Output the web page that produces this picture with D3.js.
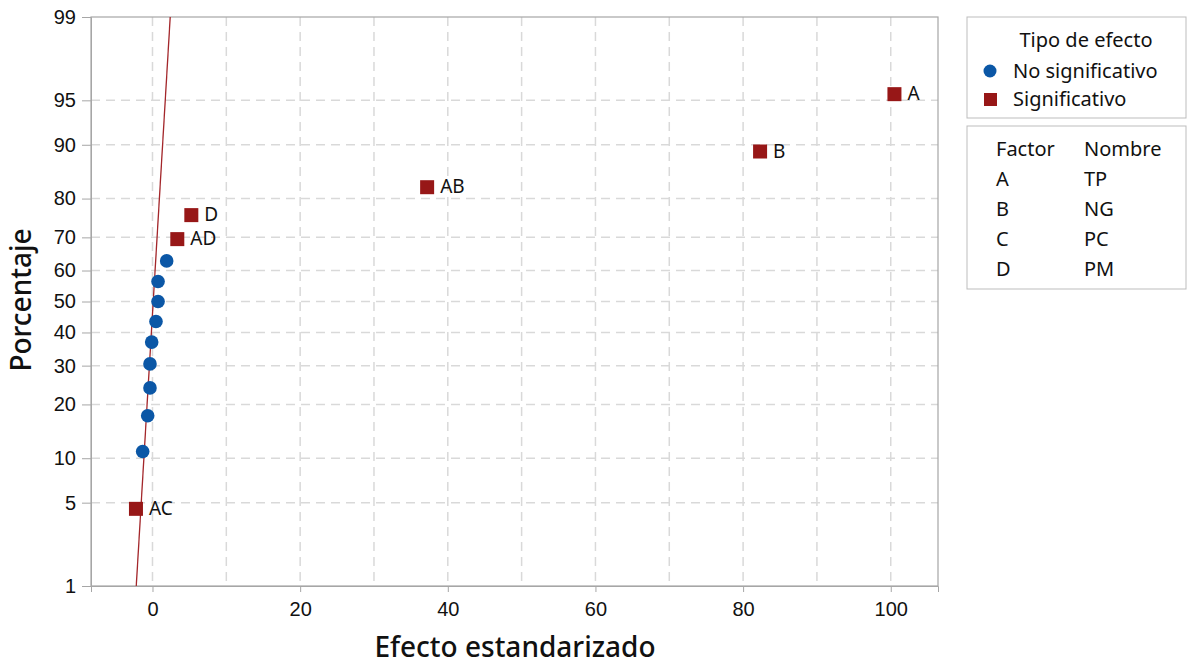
<!DOCTYPE html>
<html>
<head>
<meta charset="utf-8">
<script src="https://cdn.jsdelivr.net/npm/d3@7"></script>
<style>
  body { margin: 0; background: #fff; }
  svg { font-family: "Noto Sans", "Open Sans", sans-serif; }
</style>
</head>
<body>
<div id="chart"></div>
<script>
// DATA
var EFFECTS = [-2.24, -1.33, -0.65, -0.34, -0.34, -0.11, 0.47, 0.75, 0.75, 1.92, 3.36, 5.26, 37.2, 82.3, 100.5];
var PERCENT = [4.5, 11.0, 17.5, 24.0, 30.5, 37.0, 43.5, 50.0, 56.5, 63.0, 69.5, 76.0, 82.5, 89.0, 95.5];
var LABELS  = ["AC", "", "", "", "", "", "", "", "", "", "AD", "D", "AB", "B", "A"];
var SIGNIF  = [1, 0, 0, 0, 0, 0, 0, 0, 0, 0, 1, 1, 1, 1, 1];
var FIT_X   = [-2.2, 2.4];   // fitted normal line, effect at 1% and 99%
var FIT_P   = [1, 99];
var X_TICKS = [0, 20, 40, 60, 80, 100];
var X_GRID  = [0, 10, 20, 30, 40, 50, 60, 70, 80, 90, 100];
var Y_TICKS = [1, 5, 10, 20, 30, 40, 50, 60, 70, 80, 90, 95, 99];
var LEGEND_TYPES = ["No significativo", "Significativo"];
var FACTORS = ["A", "B", "C", "D"];
var NAMES   = ["TP", "NG", "PC", "PM"];

var BLUE = "#0b57a6", RED = "#971717";

var W = 1188, H = 665;
var mLeft = 91, mRight = 938, mTop = 17, mBottom = 586;

// inverse normal cdf (Acklam)
function probit(p) {
  var a = [-3.969683028665376e+01, 2.209460984245205e+02, -2.759285104469687e+02, 1.383577518672690e+02, -3.066479806614716e+01, 2.506628277459239e+00];
  var b = [-5.447609879822406e+01, 1.615858368580409e+02, -1.556989798598866e+02, 6.680131188771972e+01, -1.328068155288572e+01];
  var c = [-7.784894002430293e-03, -3.223964580411365e-01, -2.400758277161838e+00, -2.549732539343734e+00, 4.374664141464968e+00, 2.938163982698783e+00];
  var d = [7.784695709041462e-03, 3.224671290700398e-01, 2.445134137142996e+00, 3.754408661907416e+00];
  var pl = 0.02425, q, r;
  if (p < pl) {
    q = Math.sqrt(-2 * Math.log(p));
    return (((((c[0]*q+c[1])*q+c[2])*q+c[3])*q+c[4])*q+c[5]) / ((((d[0]*q+d[1])*q+d[2])*q+d[3])*q+1);
  } else if (p <= 1 - pl) {
    q = p - 0.5; r = q * q;
    return (((((a[0]*r+a[1])*r+a[2])*r+a[3])*r+a[4])*r+a[5])*q / (((((b[0]*r+b[1])*r+b[2])*r+b[3])*r+b[4])*r+1);
  }
  q = Math.sqrt(-2 * Math.log(1 - p));
  return -(((((c[0]*q+c[1])*q+c[2])*q+c[3])*q+c[4])*q+c[5]) / ((((d[0]*q+d[1])*q+d[2])*q+d[3])*q+1);
}

var svg = d3.select("#chart").append("svg").attr("width", W).attr("height", H);

var xScale = d3.scaleLinear().domain([-8.33, 106.4]).range([mLeft, mRight]);
var zScale = d3.scaleLinear().domain([probit(0.01), probit(0.99)]).range([mBottom, mTop]);
function yPos(p) { return zScale(probit(p / 100)); }

// grid
var grid = svg.append("g").attr("stroke", "#d9d9d9").attr("stroke-width", 1.5).attr("stroke-dasharray", "9,6");
grid.selectAll(".gx").data(X_GRID).enter().append("line")
  .attr("x1", d => xScale(d)).attr("x2", d => xScale(d))
  .attr("y1", mTop).attr("y2", mBottom);
grid.selectAll(".gy").data(Y_TICKS.slice(1, -1)).enter().append("line")
  .attr("x1", mLeft).attr("x2", mRight)
  .attr("y1", d => yPos(d)).attr("y2", d => yPos(d));

// frame
svg.append("rect").attr("x", mLeft).attr("y", mTop).attr("width", mRight - mLeft).attr("height", mBottom - mTop)
  .attr("fill", "none").attr("stroke", "#a6a6a6").attr("stroke-width", 1.2);

// axes
var xAxis = d3.axisBottom(xScale).tickValues(X_TICKS).tickSize(6).tickPadding(10).tickFormat(d3.format("d"));
var gx = svg.append("g").attr("transform", "translate(0," + mBottom + ")").call(xAxis);
var yAxis = d3.axisLeft(zScale).tickValues(Y_TICKS.map(p => probit(p / 100))).tickSize(9).tickPadding(6)
  .tickFormat((d, i) => Y_TICKS[i]);
var gy = svg.append("g").attr("transform", "translate(" + mLeft + ",0)").call(yAxis);
[gx, gy].forEach(function (g) {
  g.select(".domain").attr("stroke", "#a6a6a6");
  g.selectAll(".tick line").attr("stroke", "#a6a6a6");
  g.selectAll(".tick text").attr("fill", "#111").style("font-size", "20px");
});

// fitted line
svg.append("path")
  .datum(FIT_X.map((x, i) => [x, FIT_P[i]]))
  .attr("fill", "none").attr("stroke", "#a3262a").attr("stroke-width", 1.3)
  .attr("d", d3.line().x(d => xScale(d[0])).y(d => yPos(d[1])));

// points
var pts = EFFECTS.map((e, i) => ({ x: e, p: PERCENT[i], lab: LABELS[i], sig: SIGNIF[i] }));
svg.selectAll(".dot").data(pts.filter(d => !d.sig)).enter().append("circle")
  .attr("cx", d => xScale(d.x)).attr("cy", d => yPos(d.p)).attr("r", 6.8).attr("fill", BLUE);
svg.selectAll(".sq").data(pts.filter(d => d.sig)).enter().append("rect")
  .attr("x", d => xScale(d.x) - 7).attr("y", d => yPos(d.p) - 7)
  .attr("width", 14).attr("height", 14).attr("fill", RED);
svg.selectAll(".lab").data(pts.filter(d => d.lab)).enter().append("text")
  .attr("x", d => xScale(d.x) + 13).attr("y", d => yPos(d.p) + 6)
  .style("font-size", "19px").attr("fill", "#111").text(d => d.lab);

// axis titles
svg.append("text").attr("x", 515).attr("y", 657).attr("text-anchor", "middle")
  .style("font-size", "28px").style("font-weight", 500).attr("fill", "#111").text("Efecto estandarizado");
svg.append("text").attr("transform", "translate(31," + 300 + ") rotate(-90)")
  .attr("text-anchor", "middle").style("font-size", "28px").style("font-weight", 500).attr("fill", "#111").text("Porcentaje");

// legend: tipo de efecto
var lg = svg.append("g");
lg.append("rect").attr("x", 967).attr("y", 17).attr("width", 219).attr("height", 101)
  .attr("fill", "none").attr("stroke", "#bdbdbd");
lg.append("text").attr("x", 1086).attr("y", 47).attr("text-anchor", "middle")
  .style("font-size", "20px").attr("fill", "#111").text("Tipo de efecto");
LEGEND_TYPES.forEach(function (t, i) {
  var y = 71 + i * 28;
  if (i === 0) lg.append("circle").attr("cx", 990).attr("cy", y).attr("r", 6.5).attr("fill", BLUE);
  else lg.append("rect").attr("x", 984).attr("y", y - 6).attr("width", 13).attr("height", 13).attr("fill", RED);
  lg.append("text").attr("x", 1013).attr("y", y + 7).style("font-size", "20px").attr("fill", "#111").text(t);
});

// legend: factor table
var ft = svg.append("g");
ft.append("rect").attr("x", 967).attr("y", 126).attr("width", 219).attr("height", 163)
  .attr("fill", "none").attr("stroke", "#bdbdbd");
ft.append("text").attr("x", 996).attr("y", 156).style("font-size", "20px").attr("fill", "#111").text("Factor");
ft.append("text").attr("x", 1084).attr("y", 156).style("font-size", "20px").attr("fill", "#111").text("Nombre");
FACTORS.forEach(function (f, i) {
  var y = 186 + i * 30;
  ft.append("text").attr("x", 996).attr("y", y).style("font-size", "20px").attr("fill", "#111").text(f);
  ft.append("text").attr("x", 1084).attr("y", y).style("font-size", "20px").attr("fill", "#111").text(NAMES[i]);
});
</script>
</body>
</html>
